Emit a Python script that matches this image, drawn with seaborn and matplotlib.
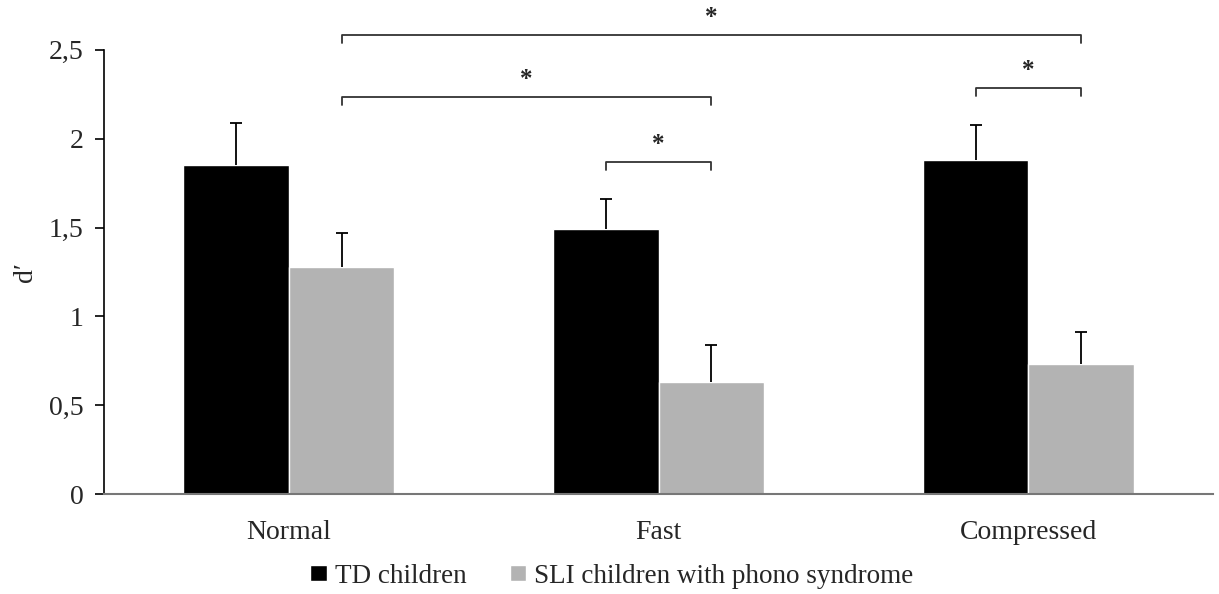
import pandas as pd
import matplotlib.pyplot as plt
import seaborn as sns
from matplotlib.ticker import FuncFormatter

# Data
conditions = ["Normal", "Fast", "Compressed"]
groups = ["TD children", "SLI children with phono syndrome"]
td_mean = [1.85, 1.49, 1.88]
td_err = [0.24, 0.17, 0.20]
sli_mean = [1.28, 0.63, 0.73]
sli_err = [0.19, 0.21, 0.18]

df = pd.DataFrame({
    "condition": conditions * 2,
    "group": [groups[0]] * 3 + [groups[1]] * 3,
    "dprime": td_mean + sli_mean,
})

sns.set_style("white")
plt.rcParams["font.family"] = ["Liberation Serif", "DejaVu Serif"]

fig = plt.figure(figsize=(12.19, 5.94), dpi=100)
ax = fig.add_axes([0.0853, 0.168, 0.91, 0.748])

sns.barplot(data=df, x="condition", y="dprime", hue="group", order=conditions,
            hue_order=groups, palette=["black", "#b3b3b3"], width=0.57, gap=0,
            errorbar=None, saturation=1, ax=ax)

# one-sided (upper) error bars
centers = {}
for cont, errs, g in zip(ax.containers, [td_err, sli_err], groups):
    xs = [b.get_x() + b.get_width() / 2 for b in cont]
    hs = [b.get_height() for b in cont]
    centers[g] = xs
    _, caps, _ = ax.errorbar(xs, hs, yerr=[[0] * len(errs), errs], fmt="none",
                             ecolor="black", elinewidth=1.3, capsize=4.5, capthick=1.3)
    for c in caps:
        if list(c.get_ydata()) == hs:
            c.set_visible(False)

ax.set_ylim(0, 2.5)
ax.set_xlim(-0.5, 2.5)
ax.set_yticks([0, 0.5, 1, 1.5, 2, 2.5])
ax.yaxis.set_major_formatter(FuncFormatter(lambda v, p: f"{v:g}".replace(".", ",")))
ax.tick_params(axis="y", left=True, direction="out", length=6.5, width=1.2,
               labelsize=20, pad=8, color="black")
ax.tick_params(axis="x", bottom=False, labelsize=20, pad=15)
ax.set_xlabel("")
ax.set_ylabel("d\u2032", fontsize=20, labelpad=8)
for s in ["top", "right"]:
    ax.spines[s].set_visible(False)
ax.spines["left"].set_color("black")
ax.spines["left"].set_linewidth(1.2)
ax.spines["bottom"].set_color("#777777")
ax.spines["bottom"].set_linewidth(1.5)


def bracket(x1, x2, y, drop=0.045):
    ax.plot([x1, x1, x2, x2], [y - drop, y, y, y - drop], color="#333333",
            lw=1.3, clip_on=False)
    ax.text((x1 + x2) / 2, y + 0.035, "*", ha="center", va="bottom",
            fontsize=18, fontweight="bold", clip_on=False)


td_x = centers[groups[0]]
sli_x = centers[groups[1]]
bracket(sli_x[0], sli_x[2], 2.585)
bracket(sli_x[0], sli_x[1], 2.235)
bracket(td_x[1], sli_x[1], 1.87)
bracket(td_x[2], sli_x[2], 2.285)

handles, labels = ax.get_legend_handles_labels()
ax.get_legend().remove()
fig.legend(handles, labels, loc="center", bbox_to_anchor=(0.502, 0.03),
           ncol=2, frameon=False, fontsize=19.5, handlelength=0.6, handleheight=0.5,
           handletextpad=0.3, columnspacing=1.6, borderpad=0)

plt.savefig("out.png", dpi=100)
